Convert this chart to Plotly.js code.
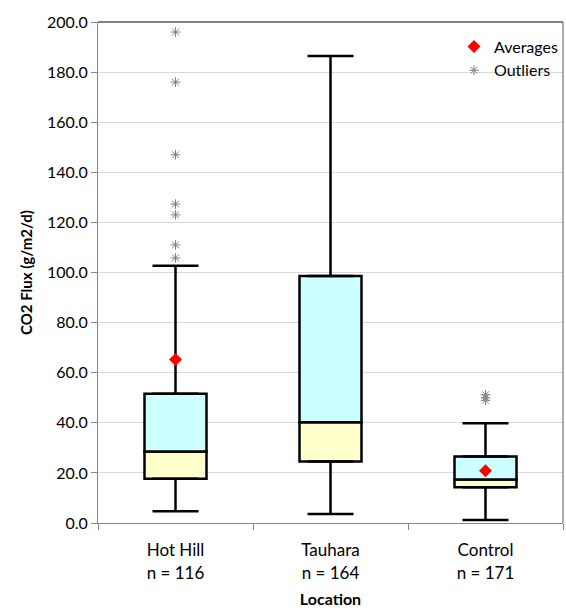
<!DOCTYPE html>
<html><head><meta charset="utf-8">
<script src="https://cdn.plot.ly/plotly-3.0.1.min.js"></script>
<style>html,body{margin:0;padding:0;background:#fff}</style>
</head><body><div id="chart" style="width:566px;height:608px"></div>
<script>
const categories = ['Hot Hill<br>n = 116', 'Tauhara<br>n = 164', 'Control<br>n = 171'];
const q1 = [17.7, 24.6, 14.3];
const median = [28.5, 40.2, 17.4];
const q3 = [51.6, 98.6, 26.5];
const whiskerLow = [4.7, 3.6, 1.2];
const whiskerHigh = [102.7, 186.4, 39.8];
const averageCats = ['Hot Hill<br>n = 116', 'Control<br>n = 171'];
const averages = [65.3, 20.9];
const outlierCats = ['Hot Hill<br>n = 116','Hot Hill<br>n = 116','Hot Hill<br>n = 116','Hot Hill<br>n = 116','Hot Hill<br>n = 116','Hot Hill<br>n = 116','Hot Hill<br>n = 116','Control<br>n = 171','Control<br>n = 171','Control<br>n = 171'];
const outliers = [196.0, 176.0, 147.0, 127.3, 123.0, 111.0, 105.8, 51.2, 50.0, 49.0];
const yTicks = [0,20,40,60,80,100,120,140,160,180,200];

const font = 'Lato, "Open Sans", sans-serif';
const traces = [
  { type:'bar', x:categories, y:median.map((m,i)=>m-q1[i]), base:q1, width:0.4,
    marker:{color:'#FFFFCC', line:{color:'#000', width:2.5}}, showlegend:false, hoverinfo:'skip' },
  { type:'bar', x:categories, y:q3.map((v,i)=>v-median[i]), base:median, width:0.4,
    marker:{color:'#CCFFFF', line:{color:'#000', width:2.5}}, showlegend:false, hoverinfo:'skip' },
  { type:'scatter', mode:'markers', x:categories, y:q3, marker:{size:0.1, color:'rgba(0,0,0,0)'},
    error_y:{type:'data', symmetric:false, array:whiskerHigh.map((v,i)=>v-q3[i]), arrayminus:categories.map(()=>0),
      color:'#000', thickness:2.5, width:23}, showlegend:false, hoverinfo:'skip' },
  { type:'scatter', mode:'markers', x:categories, y:q1, marker:{size:0.1, color:'rgba(0,0,0,0)'},
    error_y:{type:'data', symmetric:false, array:categories.map(()=>0), arrayminus:q1.map((v,i)=>v-whiskerLow[i]),
      color:'#000', thickness:2.5, width:23}, showlegend:false, hoverinfo:'skip' },
  { type:'scatter', mode:'markers', name:'Averages', x:averageCats, y:averages,
    marker:{symbol:'diamond', size:10, color:'#FF0000'} },
  { type:'scatter', mode:'markers', name:'Outliers', x:outlierCats, y:outliers,
    marker:{symbol:'asterisk-open', size:8, color:'#7F7F7F', line:{color:'#7F7F7F', width:1}} }
];
const layout = {
  width:566, height:608, margin:{l:98, r:3, t:22, b:85},
  paper_bgcolor:'#fff', plot_bgcolor:'#fff', barmode:'overlay',
  font:{family:font, size:15, color:'#000'},
  showlegend:true,
  legend:{x:1, xanchor:'right', y:0.985, yanchor:'top', bgcolor:'rgba(255,255,255,0)',
    font:{family:font, size:16, color:'#000'}, itemwidth:30, tracegroupgap:4},
  xaxis:{type:'category', range:[-0.5,2.5], showgrid:false, showline:true, linecolor:'#868686', linewidth:1,
    ticks:'outside', tickson:'boundaries', ticklen:6, tickcolor:'#868686', ticklabelstandoff:12,
    tickfont:{family:font, size:17, color:'#000'},
    title:{text:'<b>Location</b>', font:{family:font, size:16, color:'#000'}, standoff:12}},
  yaxis:{range:[0,200], tickvals:yTicks, ticktext:yTicks.map(v=>v.toFixed(1)),
    showgrid:true, gridcolor:'#D9D9D9', gridwidth:1, showline:true, linecolor:'#868686', linewidth:1,
    ticks:'outside', ticklen:6, tickcolor:'#868686', zeroline:false,
    tickfont:{family:font, size:16, color:'#000'},
    title:{text:'<b>CO2 Flux (g/m2/d)</b>', font:{family:font, size:15, color:'#000'}, standoff:10}},
  shapes:[
    {type:'line', xref:'paper', yref:'paper', x0:0, x1:1, y0:1, y1:1, line:{color:'#595959', width:1.5}},
    {type:'line', xref:'paper', yref:'paper', x0:1, x1:1, y0:0, y1:1, line:{color:'#595959', width:1}}
  ]
};
Plotly.newPlot('chart', traces, layout, {displayModeBar:false, staticPlot:true});
</script></body></html>
